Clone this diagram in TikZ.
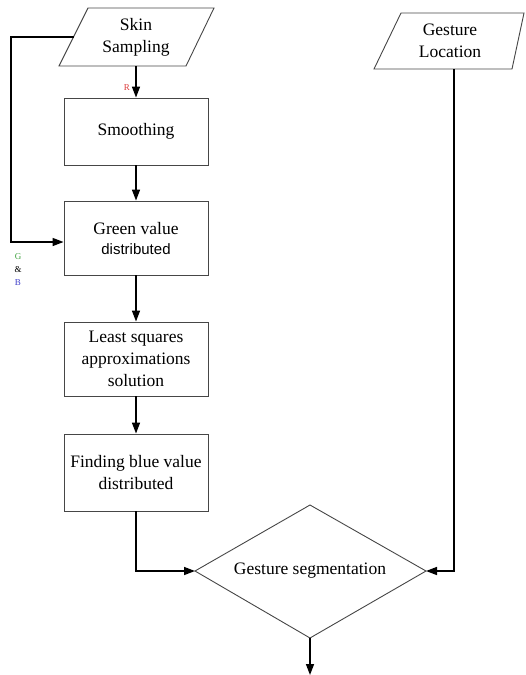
\documentclass[tikz,border=0pt]{standalone}
\usepackage{fontspec}
\setmainfont{Liberation Serif}
\newfontfamily\arialf{Liberation Sans}
\usetikzlibrary{arrows.meta}
\definecolor{lblgreen}{RGB}{60,160,60}
\definecolor{lblblue}{RGB}{60,60,200}
\definecolor{lblred}{RGB}{220,60,60}
\definecolor{edgegray}{RGB}{70,70,70}
\tikzset{
  procbox/.style={draw=edgegray, line width=0.9pt, minimum width=144pt, align=center, inner sep=0pt, font=\fontsize{17.5}{22}\selectfont},
  shapeline/.style={draw=edgegray, line width=0.9pt},
  flow/.style={line width=1.5pt, -{Triangle[length=11pt,width=8pt]}},
  plain/.style={line width=1.5pt},
  txt/.style={align=center, inner sep=0pt, font=\fontsize{17.5}{22}\selectfont},
  small/.style={inner sep=0pt, font=\fontsize{9}{13}\selectfont}
}
\begin{document}
\begin{tikzpicture}[x=1pt,y=-1pt]
\useasboundingbox (0,0) rectangle (526,675);
% Skin Sampling parallelogram
\coordinate (s1) at (88,8); \coordinate (s2) at (214,8);
\coordinate (s3) at (186,66); \coordinate (s4) at (59,66);
\draw[shapeline] (s1) -- (s2) -- (s3) -- (s4) -- cycle;
\node[txt] (skin) at (136,37) {Skin\\Sampling};
\coordinate (skinB) at (136,66);
\coordinate (skinL) at (73.5,37);
% Gesture Location parallelogram
\coordinate (g1) at (401,13); \coordinate (g2) at (524,13);
\coordinate (g3) at (512,69); \coordinate (g4) at (374,69);
\draw[shapeline] (g1) -- (g2) -- (g3) -- (g4) -- cycle;
\node[txt] (gloc) at (450,41) {Gesture\\Location};
\coordinate (glocB) at (454,69);
% boxes
\node[procbox, minimum height=67pt] (smooth) at (136,131.5) {Smoothing};
\node[procbox, minimum height=74pt] (green) at (136,238) {Green value\\[-2pt]{\arialf\fontsize{15}{20}\selectfont distributed}};
\node[procbox, minimum height=74pt] (least) at (136,359) {Least squares\\approximations\\solution};
\node[procbox, minimum height=77pt] (blue) at (136,472.5) {Finding blue value\\distributed};
% diamond
\coordinate (dT) at (310,505); \coordinate (dR) at (426,571);
\coordinate (dB) at (310,638); \coordinate (dL) at (195,571);
\draw[shapeline] (dT) -- (dR) -- (dB) -- (dL) -- cycle;
\node[txt] (seg) at (310,571) {Gesture segmentation};
% connectors
\draw[flow] (skinB) -- (smooth.north);
\draw[flow] (smooth.south) -- (green.north);
\draw[flow] (green.south) -- (least.north);
\draw[flow] (least.south) -- (blue.north);
\coordinate (loopA) at (11,37);
\coordinate (loopB) at (11,242);
\draw[flow] (skinL) -- (loopA) -- (loopB) -- (green.west |- loopB);
\coordinate (bl) at (136,571);
\draw[flow] (blue.south) -- (bl) -- (dL);
\coordinate (gr) at (454,571);
\draw[flow] (glocB) -- (gr) -- (dR);
\coordinate (outE) at (310,675);
\draw[flow] (dB) -- (outE);
% labels
\node[small, text=lblred] (rlab) at (127,88) {R};
\node[small, text=lblgreen] (glab) at (18,257) {G};
\node[small] (amp) at (18,270) {\&};
\node[small, text=lblblue] (blab) at (18,283) {B};
\end{tikzpicture}
\end{document}
